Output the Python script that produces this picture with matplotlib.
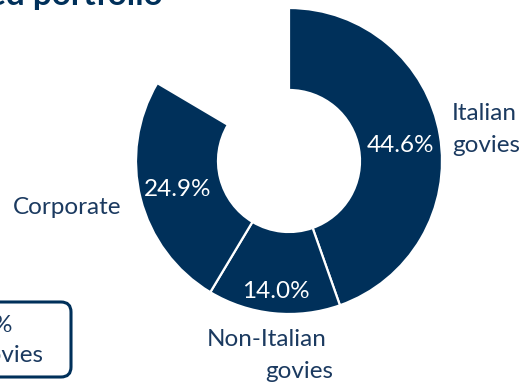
import matplotlib
matplotlib.use("Agg")
import matplotlib.pyplot as plt
from matplotlib.patches import FancyBboxPatch

# Portfolio breakdown (%)
categories = ["Italian govies", "Non-Italian govies", "Corporate", "Other"]
shares = [44.6, 14.0, 24.9, 16.5]
value_labels = ["44.6%", "14.0%", "24.9%"]

NAVY = "#00305a"
TEXT = "#1b3a60"
W, H = 522, 385
FS = 17.5

fig = plt.figure(figsize=(W / 100, H / 100), dpi=100)
ax = fig.add_axes([0, 0, 1, 1])

# Donut: last share left as an empty gap
colors = [NAVY, NAVY, NAVY, "none"]
wedges, _ = ax.pie(
    shares, colors=colors, startangle=90, counterclock=False,
    center=(289, 385 - 161), radius=153, frame=True,
    wedgeprops=dict(width=82, edgecolor="white", linewidth=1.6),
)
wedges[-1].set_edgecolor("none")

ax.set_xlim(0, W)
ax.set_ylim(0, H)
ax.set_aspect("auto")
ax.axis("off")

fam = ["Lato", "DejaVu Sans"]

# values inside the ring
inside_pos = [(400, 146), (276, 292), (178, 190)]
for lab, (x, y) in zip(value_labels, inside_pos):
    ax.text(x, H - y, lab, color="white", fontsize=FS, family=fam,
            ha="center", va="center")

# category names around the ring
ax.text(452, H - 113, "Italian", color=TEXT, fontsize=FS, family=fam, ha="left", va="center")
ax.text(452, H - 146, "govies", color=TEXT, fontsize=FS, family=fam, ha="left", va="center")
ax.text(13, H - 208, "Corporate", color=TEXT, fontsize=FS, family=fam, ha="left", va="center")
ax.text(207, H - 339, "Non-Italian", color=TEXT, fontsize=FS, family=fam, ha="left", va="center")
ax.text(265, H - 371, "govies", color=TEXT, fontsize=FS, family=fam, ha="left", va="center")

# heading
ax.text(163, H - 5, "Diversified portfolio", color=NAVY, fontsize=24, family=fam,
        fontweight="bold", ha="right", va="baseline")

# callout box on the left
box = FancyBboxPatch((-60, H - 377), 131, 75,
                     boxstyle="round,pad=0,rounding_size=10",
                     facecolor="white", edgecolor=NAVY, linewidth=2.2)
ax.add_patch(box)
ax.text(13, H - 326, "16.5%", color=TEXT, fontsize=FS, family=fam, ha="right", va="center")
ax.text(43, H - 355, "govies", color=TEXT, fontsize=FS, family=fam, ha="right", va="center")

fig.savefig("out.png", dpi=100)
